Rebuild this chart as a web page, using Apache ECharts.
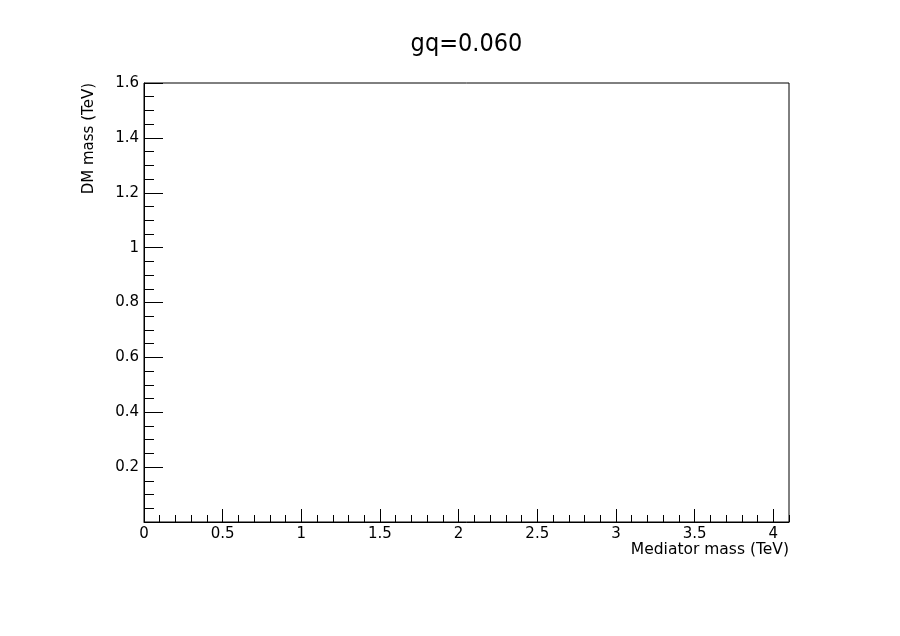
<!DOCTYPE html>
<html><head><meta charset="utf-8">
<script src="https://cdn.jsdelivr.net/npm/echarts@6/dist/echarts.min.js"></script>
<style>html,body{margin:0;padding:0;background:#fff}#c{width:900px;height:636px}</style>
</head><body><div id="c"></div>
<script>
const titleText = 'gq=0.060';
const xTitle = 'Mediator mass (TeV)';
const yTitle = 'DM mass (TeV)';
const xRange = [0, 4.1];
const yRange = [0, 1.6];
const xMajorStep = 0.5, xMinorStep = 0.1;
const yMajorStep = 0.2, yMinorSplit = 4;
const points = []; // the reference plot is empty

const FONT = 'DejaVu Sans';
const chart = echarts.init(document.getElementById('c'), null, {renderer:'canvas'});
chart.setOption({
  animation:false,
  backgroundColor:'#fff',
  graphic:[
    {type:'text', x:466.5, y:44, style:{text:titleText, align:'center', verticalAlign:'middle',
      fontFamily:'"DejaVu Sans Condensed", "DejaVu Sans"', fontSize:25, fill:'#000'}},
    {type:'text', x:789, y:550, style:{text:xTitle, align:'right', verticalAlign:'middle',
      fontFamily:FONT, fontSize:15.5, fill:'#000'}},
    {type:'text', x:89, y:83, rotation:Math.PI/2, style:{text:yTitle, align:'right', verticalAlign:'middle',
      fontFamily:FONT, fontSize:15, fill:'#000'}}
  ],
  grid:{left:144, top:83, right:111, bottom:114, show:true, borderColor:'#000', borderWidth:1, backgroundColor:'transparent'},
  xAxis:[{
    type:'value', min:xRange[0], max:xRange[1], interval:xMajorStep,
    axisLine:{show:true, lineStyle:{color:'#000', width:1}},
    axisTick:{show:true, inside:true, length:13, lineStyle:{color:'#000'}},
    axisLabel:{show:true, margin:5, showMaxLabel:false, color:'#000', fontFamily:FONT, fontSize:15,
      formatter:v=>String(+v.toFixed(2))},
    splitLine:{show:false}
  },{
    type:'value', min:xRange[0], max:xRange[1], interval:xMinorStep, position:'bottom',
    axisLine:{show:false},
    axisTick:{show:true, inside:true, length:7, lineStyle:{color:'#000'}},
    axisLabel:{show:false}, splitLine:{show:false}
  }],
  yAxis:{
    type:'value', min:yRange[0], max:yRange[1], interval:yMajorStep,
    axisLine:{show:true, lineStyle:{color:'#000', width:1}},
    axisTick:{show:true, inside:true, length:19, lineStyle:{color:'#000'}},
    minorTick:{show:true, splitNumber:yMinorSplit, length:10, lineStyle:{color:'#000'}},
    axisLabel:{show:true, margin:5, color:'#000', fontFamily:FONT, fontSize:15,
      formatter:v=> v===0 ? '' : String(+v.toFixed(2))},
    splitLine:{show:false}
  },
  series:[{type:'scatter', data:points, xAxisIndex:0}]
});
</script></body></html>
